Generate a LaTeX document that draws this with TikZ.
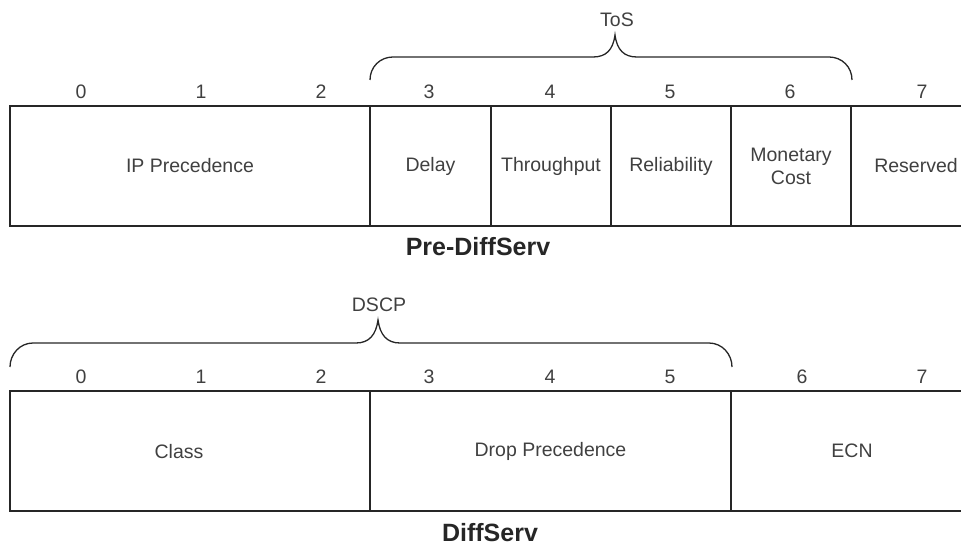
\documentclass[tikz,border=0pt]{standalone}
\usepackage{fontspec}
\setmainfont{Liberation Sans}
\begin{document}
\begin{tikzpicture}[x=1pt,y=-1pt,
  cell/.style={draw=black!85, line width=1.4pt, minimum height=120pt, inner sep=0pt, outer sep=0pt, text=black!75, font=\fontsize{19.5}{23}\selectfont, align=center},
  lbl/.style={text=black!75, font=\fontsize{19.5}{23}\selectfont, inner sep=0pt},
  title/.style={text=black!85, font=\fontsize{25}{28}\selectfont\bfseries, inner sep=0pt, anchor=base},
  brace/.style={draw=black!85, line width=1.3pt}]
\useasboundingbox (0,0) rectangle (961,545);
\clip (0,0) rectangle (961,545);
% ---- Pre-DiffServ ----
\node[cell, minimum width=360pt] (ipp) at (190,166) {IP Precedence};
\node[cell, minimum width=121pt] (delay) at (430.5,166) {Delay};
\node[cell, minimum width=120pt] (thr) at (551,166) {Throughput};
\node[cell, minimum width=120pt] (rel) at (671,166) {Reliability};
\node[cell, minimum width=120pt] (mon) at (791,166) {Monetary\\Cost};
\node[cell, minimum width=130pt] (res) at (916,166) {Reserved};
\foreach \x/\t [count=\i] in {81/0,201/1,321/2,429/3,550/4,670/5,790/6,922/7}
  \node[lbl] (ta\i) at (\x,92) {\t};
\draw[brace] (370,80) .. controls (370,67) and (380,57) .. (393,57) -- (593,57)
  .. controls (606,57) and (613,50) .. (615,35)
  .. controls (617,50) and (624,57) .. (637,57) -- (829,57)
  .. controls (842,57) and (852,67) .. (852,80);
\node[lbl] (tos) at (617,20) {ToS};
\node[title] (pre) at (478,256) {Pre-DiffServ};
% ---- DiffServ ----
\node[cell, minimum width=360pt] (cls) at (190,451) {};
\node[lbl] (clst) at (179,452) {Class};
\node[cell, minimum width=361pt] (drop) at (550.5,451) {Drop Precedence};
\node[cell, minimum width=242pt] (ecn) at (852,451) {ECN};
\foreach \x/\t [count=\i] in {81/0,201/1,321/2,429/3,550/4,670/5,802/6,922/7}
  \node[lbl] (tb\i) at (\x,377) {\t};
\draw[brace] (10,367) .. controls (10,354) and (20,343) .. (33,343) -- (356,343)
  .. controls (369,343) and (376,335) .. (378,320)
  .. controls (380,335) and (387,343) .. (400,343) -- (709,343)
  .. controls (722,343) and (732,354) .. (732,367);
\node[lbl] (dscp) at (379,305) {DSCP};
\node[title] (ds) at (490,541) {DiffServ};
\end{tikzpicture}
\end{document}
